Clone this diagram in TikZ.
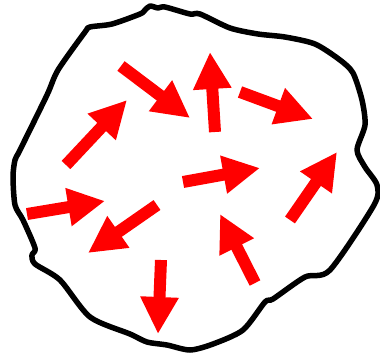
\documentclass[tikz,border=0pt]{standalone}
\usepackage{tikz}
\usetikzlibrary{arrows.meta}

\tikzset{
  blob/.style={line width=5.5pt, line join=round},
  vec/.style={red, line width=12pt, -{Triangle[width=36pt,length=37pt]}}
}

\begin{document}
\begin{tikzpicture}[x=1pt, y=-1pt]
\useasboundingbox (0,0) rectangle (380,354);
% outline of the region
\draw[blob] plot[smooth cycle, tension=0.45] coordinates {
  (150,6) (158,8) (165,7) (190,14) (200,14) (230,28) (258,34) (285,37)
  (315,44) (340,60) (353,73) (362,100) (365,125) (357,150) (365,167)
  (377,185) (374,205) (330,270) (305,277) (273,299) (265,302) (243,330)
  (213,344) (190,350) (167,345) (147,342) (130,334) (90,317) (60,280)
  (35,264) (32,255) (35,248) (23,220) (15,205) (13,177) (15,160) (20,150)
  (47,95) (58,70) (85,32) (90,27) (112,24) (140,14) (145,10)};
% arrows inside
\foreach \xa/\ya/\xb/\yb in {
  121/66/190/118, 215/132/210/52, 240/92/313/119, 66/165/127/100,
  183/182/260/168, 290/220/337/152, 27/214/105/201, 157/205/88/253,
  255/283/220/214, 161/260/158/334}
  \draw[vec] (\xa,\ya) -- (\xb,\yb);
\end{tikzpicture}
\end{document}
